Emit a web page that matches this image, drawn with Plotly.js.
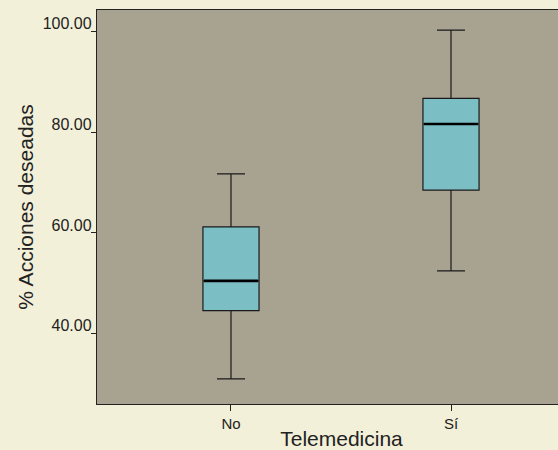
<!DOCTYPE html>
<html>
<head>
<meta charset="utf-8">
<script src="https://cdn.plot.ly/plotly-3.0.1.min.js"></script>
<style>html,body{margin:0;padding:0;background:#F2F0D8;overflow:hidden;width:558px;height:450px;}#chart{width:586px;height:450px;}</style>
</head>
<body>
<div id="chart"></div>
<script>
const categories = ["No", "Sí"];
const lowerWhisker = [31.1, 52.5];
const q1Values = [44.6, 68.5];
const medianValues = [50.5, 81.6];
const q3Values = [61.2, 86.7];
const upperWhisker = [71.7, 100.2];
const yTickValues = [40, 60, 80, 100];

const boxFill = "#7BBFC4";
const traces = [
  {
    type: "box",
    x: categories,
    q1: q1Values,
    median: medianValues,
    q3: q3Values,
    lowerfence: lowerWhisker,
    upperfence: upperWhisker,
    fillcolor: boxFill,
    line: {color: "#1a1a1a", width: 1.2},
    whiskerwidth: 0.5,
    width: 0.255,
    boxpoints: false,
    hoverinfo: "skip",
    showlegend: false
  },
  {
    type: "box",
    x: categories,
    q1: medianValues,
    median: medianValues,
    q3: medianValues,
    lowerfence: medianValues,
    upperfence: medianValues,
    fillcolor: "rgba(0,0,0,0)",
    line: {color: "#000000", width: 2.6},
    whiskerwidth: 0,
    width: 0.245,
    boxpoints: false,
    hoverinfo: "skip",
    showlegend: false
  }
];

const layout = {
  width: 586,
  height: 450,
  margin: {l: 97, r: 0, t: 10, b: 46},
  paper_bgcolor: "#F2F0D8",
  plot_bgcolor: "#A8A290",
  font: {family: "Liberation Sans, Arial, sans-serif", color: "#222222", size: 15},
  boxmode: "overlay",
  xaxis: {
    type: "category",
    range: [-0.609, 1.6136],
    showline: true,
    linecolor: "#222222",
    linewidth: 1.2,
    mirror: true,
    ticks: "outside",
    ticklen: 6,
    tickcolor: "#222222",
    showgrid: false,
    zeroline: false,
    tickfont: {size: 15},
    title: {text: "Telemedicina", font: {size: 21}, standoff: 0}
  },
  yaxis: {
    range: [26.1, 104.2],
    tickvals: yTickValues,
    tickformat: ".2f",
    showline: true,
    mirror: false,
    linecolor: "#222222",
    linewidth: 1.2,
    ticks: "outside",
    ticklen: 5,
    tickcolor: "#222222",
    showgrid: false,
    zeroline: false,
    ticklabelshift: -8,
    ticklabelstandoff: -4,
    tickfont: {size: 16},
    title: {text: "% Acciones deseadas", font: {size: 21}, standoff: 3}
  }
};

Plotly.newPlot("chart", traces, layout, {staticPlot: true, displayModeBar: false});
</script>
</body>
</html>
